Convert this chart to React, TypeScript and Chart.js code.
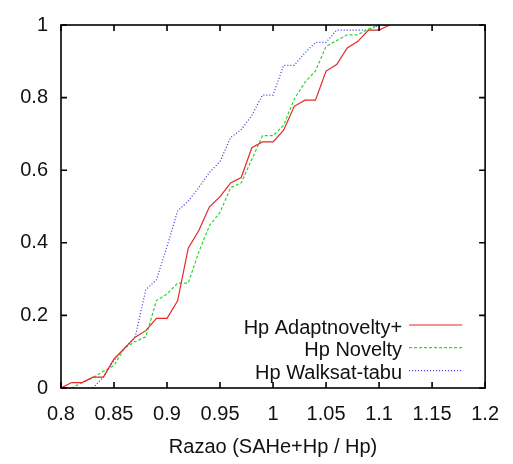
import { useEffect, useRef } from 'react';
import { Chart, registerables } from 'chart.js';

Chart.register(...registerables);

// Razao values (x) sampled every 0.01
const xValues = [
  0.80, 0.81, 0.82, 0.83, 0.84, 0.85, 0.86, 0.87, 0.88, 0.89,
  0.90, 0.91, 0.92, 0.93, 0.94, 0.95, 0.96, 0.97, 0.98, 0.99,
  1.00, 1.01, 1.02, 1.03, 1.04, 1.05, 1.06, 1.07, 1.08, 1.09,
  1.10, 1.11,
];

const adaptnovelty = [
  0, 0.015, 0.015, 0.03, 0.03, 0.08, 0.11, 0.14, 0.158, 0.192,
  0.192, 0.24, 0.385, 0.434, 0.499, 0.527, 0.565, 0.58, 0.662, 0.678,
  0.678, 0.71, 0.776, 0.793, 0.793, 0.873, 0.891, 0.937, 0.955, 0.986,
  0.986, 1.0,
];

const novelty = [
  0, 0, 0.015, 0.028, 0.046, 0.062, 0.11, 0.128, 0.141, 0.241,
  0.259, 0.289, 0.289, 0.375, 0.447, 0.484, 0.552, 0.565, 0.63, 0.695,
  0.695, 0.724, 0.796, 0.842, 0.873, 0.941, 0.957, 0.973, 0.973, 0.989,
  1.0, 1.0,
];

const walksat = [
  null, null, null, 0, 0.03, 0.076, 0.11, 0.141, 0.271, 0.298,
  0.39, 0.488, 0.515, 0.552, 0.594, 0.624, 0.69, 0.712, 0.751, 0.807,
  0.807, 0.889, 0.889, 0.923, 0.952, 0.952, 0.986, 0.986, 0.986, 0.986,
  1.0, 1.0,
];

const seriesLabels = ['Hp Adaptnovelty+', 'Hp Novelty', 'Hp Walksat-tabu'];
const seriesColors = ['rgb(228,40,40)', 'rgb(40,215,40)', 'rgb(50,50,225)'];
const seriesDashes = [[], [3, 2], [1, 2]];

const xTicks = [0.8, 0.85, 0.9, 0.95, 1.0, 1.05, 1.1, 1.15, 1.2];
const xTickLabels = ['0.8', '0.85', '0.9', '0.95', '1', '1.05', '1.1', '1.15', '1.2'];
const yTicks = [0, 0.2, 0.4, 0.6, 0.8, 1.0];
const yTickLabels = ['0', '0.2', '0.4', '0.6', '0.8', '1'];

const xTitle = 'Razao (SAHe+Hp / Hp)';
const FONT = '"Liberation Sans", Arial, sans-serif';
const FS = 20;

const framePlugin = {
  id: 'gnuFrame',
  afterDatasetsDraw(chart: any) {
    const { ctx, chartArea: a, scales } = chart;
    const xs = scales.x;
    const ys = scales.y;
    ctx.save();
    ctx.strokeStyle = '#000';
    ctx.lineWidth = 1.6;
    ctx.strokeRect(a.left, a.top, a.right - a.left, a.bottom - a.top);
    ctx.beginPath();
    const tl = 6;
    for (const v of xTicks) {
      const px = xs.getPixelForValue(v);
      ctx.moveTo(px, a.bottom);
      ctx.lineTo(px, a.bottom - tl);
      ctx.moveTo(px, a.top);
      ctx.lineTo(px, a.top + tl);
    }
    for (const v of yTicks) {
      const py = ys.getPixelForValue(v);
      ctx.moveTo(a.left, py);
      ctx.lineTo(a.left + tl, py);
      ctx.moveTo(a.right, py);
      ctx.lineTo(a.right - tl, py);
    }
    ctx.stroke();

    // legend inside plot, bottom right
    ctx.font = `${FS}px ${FONT}`;
    ctx.textAlign = 'right';
    ctx.textBaseline = 'alphabetic';
    ctx.fillStyle = '#111';
    const textRight = a.right - 83;
    const baselines = [a.bottom - 54.5, a.bottom - 32, a.bottom - 9.5];
    const lineYs = [a.bottom - 63, a.bottom - 40.3, a.bottom - 17.3];
    seriesLabels.forEach((label, i) => {
      ctx.fillText(label, textRight, baselines[i]);
      ctx.beginPath();
      ctx.strokeStyle = seriesColors[i];
      ctx.lineWidth = 1.2;
      ctx.setLineDash(seriesDashes[i]);
      ctx.moveTo(a.right - 76, lineYs[i]);
      ctx.lineTo(a.right - 23, lineYs[i]);
      ctx.stroke();
      ctx.setLineDash([]);
    });
    ctx.restore();
  },
};

export default function App() {
  const ref = useRef<HTMLCanvasElement | null>(null);

  useEffect(() => {
    if (!ref.current) return;
    const series = [adaptnovelty, novelty, walksat];
    const chart = new Chart(ref.current, {
      type: 'line',
      data: {
        datasets: series.map((vals, i) => ({
          label: seriesLabels[i],
          data: xValues.map((x, j) => ({ x, y: vals[j] })),
          borderColor: seriesColors[i],
          borderWidth: 1.2,
          borderDash: seriesDashes[i],
          pointRadius: 0,
          fill: false,
          tension: 0,
          spanGaps: false,
        })),
      },
      options: {
        animation: false,
        responsive: false,
        devicePixelRatio: 1,
        layout: { padding: { left: 0, right: 22, top: 19, bottom: 0 } },
        plugins: {
          legend: { display: false },
          tooltip: { enabled: false },
        },
        scales: {
          x: {
            type: 'linear',
            min: 0.8,
            max: 1.2,
            afterFit: (s: any) => { s.height = 76; },
            afterBuildTicks: (s: any) => { s.ticks = xTicks.map((v) => ({ value: v })); },
            grid: { display: false, drawTicks: false },
            border: { display: false },
            ticks: {
              autoSkip: false,
              maxRotation: 0,
              padding: 14,
              color: '#111',
              font: { family: FONT, size: FS },
              callback: (_v: any, i: number) => xTickLabels[i],
            },
            title: {
              display: true,
              text: xTitle,
              color: '#111',
              font: { family: FONT, size: FS },
              padding: { top: 0, bottom: 5 },
            },
          },
          y: {
            type: 'linear',
            min: 0,
            max: 1,
            afterFit: (s: any) => { s.width = 61; },
            afterBuildTicks: (s: any) => { s.ticks = yTicks.map((v) => ({ value: v })); },
            grid: { display: false, drawTicks: false },
            border: { display: false },
            ticks: {
              padding: 13,
              color: '#111',
              font: { family: FONT, size: FS },
              callback: (_v: any, i: number) => yTickLabels[i],
            },
          },
        },
      },
      plugins: [framePlugin],
    });
    return () => chart.destroy();
  }, []);

  return (
    <div style={{ position: 'fixed', left: 0, top: 0, width: 513, height: 464, background: '#fff' }}>
      <canvas ref={ref} width={513} height={464} style={{ width: 513, height: 464, display: 'block' }} />
    </div>
  );
}
